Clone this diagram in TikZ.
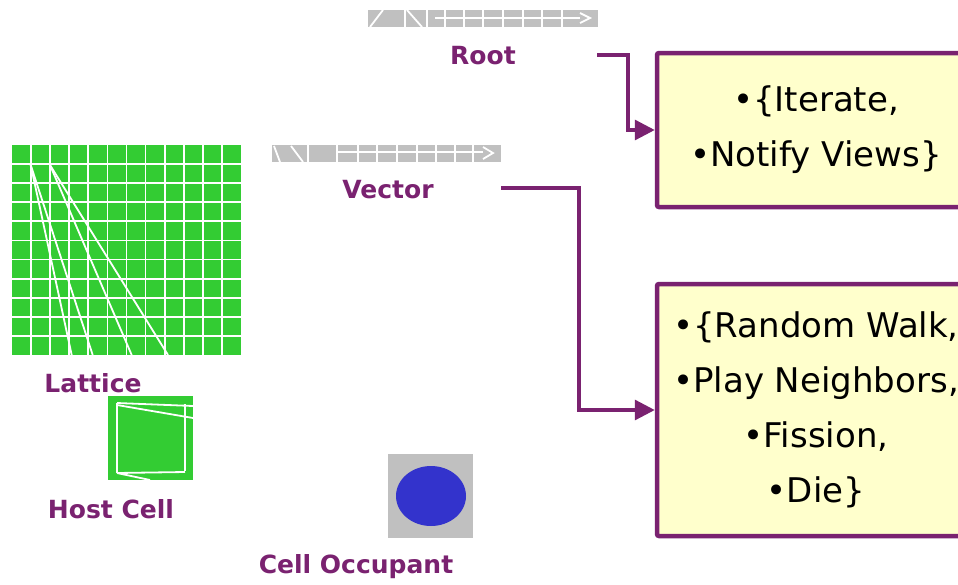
\documentclass[tikz,border=0pt]{standalone}
\usepackage{fontspec}
\setmainfont{DejaVu Sans}
\usetikzlibrary{arrows.meta}
\definecolor{plum}{RGB}{122,34,112}
\definecolor{pale}{RGB}{255,255,204}
\definecolor{cellgreen}{RGB}{51,204,51}
\definecolor{bargrey}{RGB}{192,192,192}
\definecolor{occblue}{RGB}{51,51,204}
\tikzset{
  lbl/.style={text=plum, font=\bfseries\fontsize{25}{29}\selectfont, inner sep=0pt},
  opbox/.style={draw=plum, line width=4.5pt, fill=pale, rounded corners=2pt,
    minimum width=318pt, align=center, text=black,
    font=\fontsize{34}{55}\selectfont},
  conn/.style={draw=plum, line width=3.3pt,
    -{Triangle[length=20pt,width=20pt]}},
  wline/.style={white, line width=1.8pt},
}
\begin{document}
\begin{tikzpicture}[x=1pt,y=-1pt]
\clip (0,0) rectangle (958,584);
\fill[white] (0,0) rectangle (958,584);

% collapsed row of cells (Root)
\fill[bargrey] (368,10) rectangle (598,27);
\draw[wline] (370,27) -- (383,10);
\draw[wline] (405,10) -- (405,27);
\draw[wline] (407,10) -- (422,27);
\draw[wline] (427,10) -- (427,27);
\draw[wline] (435,18) -- (580,18);
\foreach \x in {445,464,483,503,523,542,562} \draw[wline] (\x,10) -- (\x,27);
\draw[wline] (580,13) -- (590,18) -- (580,23);

% collapsed row of cells (Vector)
\fill[bargrey] (272,145) rectangle (501,162);
\draw[wline] (274,146) -- (280,162);
\draw[wline] (291,146) -- (303,162);
\draw[wline] (308,145) -- (308,162);
\draw[wline] (337,152) -- (483,152);
\foreach \x in {337,358,377,397,417,436,455,473} \draw[wline] (\x,145) -- (\x,162);
\draw[wline] (483,147) -- (493,153) -- (483,159);

% lattice
\fill[cellgreen] (12,145) rectangle (241,355);
\foreach \i in {1,...,11} \draw[wline] (12+\i*19.08,145) -- (12+\i*19.08,355);
\foreach \j in {1,...,10} \draw[wline] (12,145+\j*19.09) -- (241,145+\j*19.09);
\draw[wline] (30.7,165) -- (71.7,355);
\draw[wline] (30.7,165) -- (92.7,355);
\draw[wline] (50,165) -- (131.7,355);
\draw[wline] (50,165) -- (168,355);

% host cell
\fill[cellgreen] (108,396) rectangle (193,480);
\draw[wline] (117,403) -- (117,473);
\draw[wline] (185,404) -- (185,471);
\draw[wline] (117,403) -- (193,406);
\draw[wline] (117,405) -- (193,418);
\draw[wline] (117,473) -- (185,472);
\draw[wline] (117,473) -- (150,480);

% cell occupant
\fill[bargrey] (388,454) rectangle (473,538);
\fill[occblue] (431,496) ellipse [x radius=35, y radius=30];

% labels
\node[lbl] (root) at (483,56) {Root};
\node[lbl] (vector) at (388,190) {Vector};
\node[lbl] (lattice) at (93,383) {Lattice};
\node[lbl] (host) at (111,509) {Host Cell};
\node[lbl] (occupant) at (356,567) {Cell Occupant};

% operation boxes
\node[opbox, minimum height=154pt] (topbox) at (816,130)
  {•\{Iterate,\\•Notify Views\}};
\node[opbox, minimum height=252pt] (botbox) at (816,410)
  {•\{Random Walk,\\•Play Neighbors,\\•Fission,\\•Die\}};

% connectors
\coordinate (rootout) at (597,55);
\coordinate (vecout) at (501,188);
\draw[conn] (rootout) -- ++(31,0) |- (topbox.west);
\draw[conn] (vecout) -- ++(78,0) |- (botbox.west);
\end{tikzpicture}
\end{document}
